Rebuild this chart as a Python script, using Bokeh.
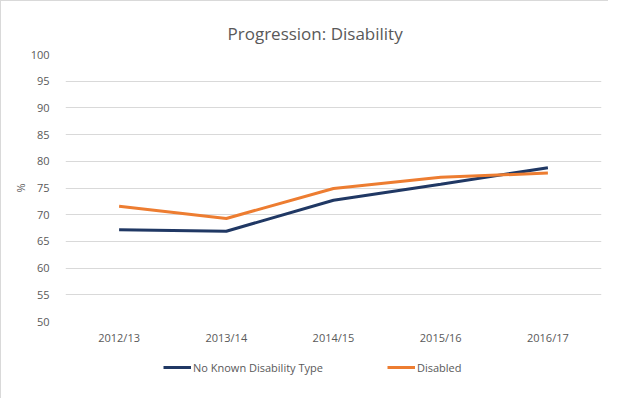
from bokeh.plotting import figure
from bokeh.layouts import column
from bokeh.models import Legend, LegendItem, FixedTicker, Range1d, FactorRange
from bokeh.embed import file_html
from bokeh.resources import INLINE

years = ["2012/13", "2013/14", "2014/15", "2015/16", "2016/17"]
no_known = [67.2, 66.9, 72.7, 75.7, 78.8]
disabled = [71.6, 69.3, 74.9, 77.0, 77.8]
y_ticks = [50, 55, 60, 65, 70, 75, 80, 85, 90, 95, 100]
series_names = ["No Known Disability Type", "Disabled"]
series_colors = ["#203864", "#ED7D31"]

FONT = "Open Sans"
GREY = "#595959"

p = figure(width=607, height=352, output_backend="svg", toolbar_location=None,
           x_range=FactorRange(*years, range_padding=0), y_range=Range1d(50, 100),
           min_border_left=64, min_border_right=7, min_border_top=53, min_border_bottom=32,
           title="Progression: Disability")
p.title.align = "left"
p.title.offset = 162
p.title.standoff = 19
p.title.text_font = FONT
p.title.text_font_size = "17px"
p.title.text_font_style = "normal"
p.title.text_color = GREY
p.outline_line_color = None

p.line(years, no_known, line_color=series_colors[0], line_width=3)
p.line(years, disabled, line_color=series_colors[1], line_width=3)

p.yaxis.ticker = FixedTicker(ticks=y_ticks)
p.yaxis.axis_label = "%"
for ax in (p.xaxis[0], p.yaxis[0]):
    ax.axis_line_color = None
    ax.major_tick_line_color = None
    ax.minor_tick_line_color = None
    ax.major_label_text_font = FONT
    ax.major_label_text_font_size = "11px"
    ax.major_label_text_color = GREY
    ax.axis_label_text_font = FONT
    ax.axis_label_text_font_size = "11px"
    ax.axis_label_text_color = GREY
    ax.axis_label_text_font_style = "normal"
p.xaxis.major_label_standoff = 2
p.yaxis.major_label_standoff = 10
p.yaxis.axis_label_standoff = 0
p.xgrid.grid_line_color = None
p.ygrid.grid_line_color = "#d9d9d9"
p.ygrid.grid_line_width = 1

# legend strip below the chart
lf = figure(width=607, height=45, output_backend="svg", toolbar_location=None,
            x_range=Range1d(0, 1), y_range=Range1d(0, 1),
            min_border_left=0, min_border_right=0, min_border_top=0, min_border_bottom=0)
lf.axis.visible = False
lf.grid.visible = False
lf.outline_line_color = None
nan = float("nan")
items = []
for name, col in zip(series_names, series_colors):
    rr = lf.line(x=[nan, nan], y=[nan, nan], line_color=col, line_width=3)
    items.append(LegendItem(label=name, renderers=[rr]))
legend = Legend(items=items, orientation="horizontal", location=(98, 21),
                border_line_color=None, background_fill_alpha=0,
                label_text_font=FONT, label_text_font_size="11px", label_text_color=GREY,
                glyph_width=28, label_standoff=2, spacing=64, padding=4, margin=0)
lf.add_layout(legend, "center")

layout = column(p, lf, spacing=0,
                styles={"border-left": "1px solid #d9d9d9", "border-top": "1px solid #d9d9d9"})

open("out.html", "w").write(file_html(layout, INLINE))
